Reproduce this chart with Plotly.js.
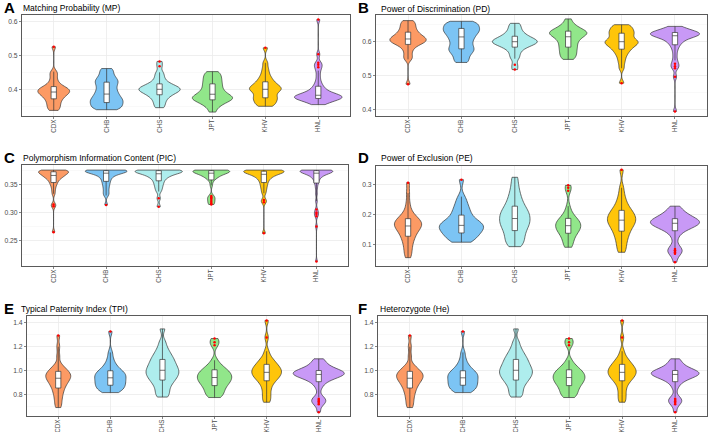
<!DOCTYPE html>
<html>
<head>
<meta charset="utf-8">
<script src="https://cdn.plot.ly/plotly-3.0.1.min.js"></script>
<style>
  html, body { margin: 0; padding: 0; background: #fff; }
  #chart { width: 708px; height: 432px; }
</style>
</head>
<body>
<div id="chart"></div>
<script>
const populations = ['CDX', 'CHB', 'CHS', 'JPT', 'KHV', 'HNL'];
const popColors = ['#FC9A64', '#7CC4F4', '#AEEDED', '#91E68A', '#FFC50A', '#C899F6'];

// Matching Probability (MP)
const mpCDX = [0.338, 0.342, 0.348, 0.353, 0.358, 0.363, 0.368, 0.372, 0.375, 0.379, 0.382, 0.385, 0.387, 0.389, 0.391, 0.393, 0.395, 0.397, 0.399, 0.401, 0.403, 0.405, 0.408, 0.412, 0.418, 0.425, 0.435, 0.445, 0.452, 0.525];
const mpCHB = [0.34, 0.342, 0.345, 0.348, 0.352, 0.355, 0.358, 0.361, 0.364, 0.367, 0.37, 0.373, 0.376, 0.38, 0.384, 0.388, 0.392, 0.397, 0.402, 0.407, 0.412, 0.417, 0.421, 0.425, 0.429, 0.434, 0.44, 0.447, 0.455, 0.461];
const mpCHS = [0.346, 0.352, 0.36, 0.366, 0.372, 0.377, 0.381, 0.384, 0.387, 0.39, 0.392, 0.394, 0.396, 0.398, 0.399, 0.401, 0.402, 0.404, 0.406, 0.408, 0.41, 0.413, 0.416, 0.42, 0.426, 0.433, 0.442, 0.45, 0.468, 0.482];
const mpJPT = [0.333, 0.345, 0.352, 0.357, 0.361, 0.364, 0.367, 0.369, 0.371, 0.373, 0.375, 0.377, 0.379, 0.381, 0.384, 0.387, 0.39, 0.394, 0.398, 0.402, 0.407, 0.412, 0.416, 0.421, 0.426, 0.431, 0.436, 0.441, 0.447, 0.452];
const mpKHV = [0.35, 0.353, 0.357, 0.361, 0.365, 0.369, 0.372, 0.375, 0.378, 0.382, 0.386, 0.39, 0.394, 0.397, 0.399, 0.401, 0.403, 0.405, 0.408, 0.411, 0.414, 0.418, 0.422, 0.427, 0.433, 0.44, 0.45, 0.462, 0.478, 0.522];
const mpHNL = [0.355, 0.358, 0.361, 0.364, 0.366, 0.368, 0.37, 0.371, 0.372, 0.373, 0.374, 0.375, 0.376, 0.377, 0.378, 0.379, 0.38, 0.381, 0.382, 0.383, 0.384, 0.386, 0.388, 0.39, 0.393, 0.396, 0.4, 0.404, 0.409, 0.416, 0.426, 0.44, 0.455, 0.465, 0.472, 0.478, 0.503, 0.605];

// Power of Discrimination (PD)
const pdCDX = [0.662, 0.658, 0.652, 0.647, 0.642, 0.637, 0.632, 0.628, 0.625, 0.621, 0.618, 0.615, 0.613, 0.611, 0.609, 0.607, 0.605, 0.603, 0.601, 0.599, 0.597, 0.595, 0.592, 0.588, 0.582, 0.575, 0.565, 0.555, 0.548, 0.475];
const pdCHB = [0.66, 0.658, 0.655, 0.652, 0.648, 0.645, 0.642, 0.639, 0.636, 0.633, 0.63, 0.627, 0.624, 0.62, 0.616, 0.612, 0.608, 0.603, 0.598, 0.593, 0.588, 0.583, 0.579, 0.575, 0.571, 0.566, 0.56, 0.553, 0.545, 0.539];
const pdCHS = [0.654, 0.648, 0.64, 0.634, 0.628, 0.623, 0.619, 0.616, 0.613, 0.61, 0.608, 0.606, 0.604, 0.602, 0.601, 0.599, 0.598, 0.596, 0.594, 0.592, 0.59, 0.587, 0.584, 0.58, 0.574, 0.567, 0.558, 0.55, 0.532, 0.518];
const pdJPT = [0.667, 0.655, 0.648, 0.643, 0.639, 0.636, 0.633, 0.631, 0.629, 0.627, 0.625, 0.623, 0.621, 0.619, 0.616, 0.613, 0.61, 0.606, 0.602, 0.598, 0.593, 0.588, 0.584, 0.579, 0.574, 0.569, 0.564, 0.559, 0.553, 0.548];
const pdKHV = [0.65, 0.647, 0.643, 0.639, 0.635, 0.631, 0.628, 0.625, 0.622, 0.618, 0.614, 0.61, 0.606, 0.603, 0.601, 0.599, 0.597, 0.595, 0.592, 0.589, 0.586, 0.582, 0.578, 0.573, 0.567, 0.56, 0.55, 0.538, 0.522, 0.478];
const pdHNL = [0.645, 0.642, 0.639, 0.636, 0.634, 0.632, 0.63, 0.629, 0.628, 0.627, 0.626, 0.625, 0.624, 0.623, 0.622, 0.621, 0.62, 0.619, 0.618, 0.617, 0.616, 0.614, 0.612, 0.61, 0.607, 0.604, 0.6, 0.596, 0.591, 0.584, 0.574, 0.56, 0.545, 0.535, 0.528, 0.522, 0.497, 0.395];

// Polymorphism Information Content (PIC)
const picCDX = [0.265, 0.311, 0.314, 0.333, 0.34, 0.346, 0.35, 0.353, 0.356, 0.358, 0.36, 0.362, 0.363, 0.364, 0.365, 0.366, 0.367, 0.368, 0.369, 0.37, 0.371, 0.372, 0.372, 0.373, 0.373, 0.374, 0.374, 0.375, 0.375, 0.375];
const picCHB = [0.313, 0.33, 0.334, 0.339, 0.344, 0.348, 0.352, 0.355, 0.358, 0.361, 0.363, 0.365, 0.367, 0.368, 0.369, 0.37, 0.371, 0.372, 0.372, 0.373, 0.373, 0.374, 0.374, 0.374, 0.375, 0.375, 0.375, 0.375, 0.375, 0.375];
const picCHS = [0.31, 0.325, 0.337, 0.342, 0.346, 0.35, 0.353, 0.356, 0.359, 0.361, 0.363, 0.364, 0.366, 0.367, 0.368, 0.369, 0.37, 0.371, 0.371, 0.372, 0.373, 0.373, 0.374, 0.374, 0.374, 0.375, 0.375, 0.375, 0.375, 0.375];
const picJPT = [0.314, 0.316, 0.319, 0.322, 0.325, 0.327, 0.329, 0.348, 0.356, 0.359, 0.361, 0.363, 0.364, 0.365, 0.366, 0.367, 0.368, 0.369, 0.37, 0.37, 0.371, 0.371, 0.372, 0.372, 0.373, 0.373, 0.374, 0.374, 0.374, 0.375, 0.375, 0.375, 0.375, 0.375, 0.375, 0.375];
const picKHV = [0.263, 0.318, 0.322, 0.334, 0.34, 0.345, 0.349, 0.353, 0.356, 0.359, 0.361, 0.363, 0.365, 0.366, 0.367, 0.368, 0.369, 0.37, 0.371, 0.372, 0.372, 0.373, 0.373, 0.374, 0.374, 0.374, 0.375, 0.375, 0.375, 0.375];
const picHNL = [0.213, 0.275, 0.293, 0.297, 0.3, 0.305, 0.32, 0.333, 0.343, 0.35, 0.354, 0.357, 0.36, 0.362, 0.364, 0.365, 0.366, 0.367, 0.368, 0.369, 0.37, 0.37, 0.371, 0.371, 0.372, 0.372, 0.373, 0.373, 0.373, 0.374, 0.374, 0.374, 0.374, 0.375, 0.375, 0.375, 0.375, 0.375, 0.375, 0.375];

// Power of Exclusion (PE)
const peCDX = [0.055, 0.068, 0.08, 0.092, 0.103, 0.112, 0.12, 0.127, 0.133, 0.139, 0.144, 0.149, 0.153, 0.157, 0.16, 0.163, 0.166, 0.169, 0.172, 0.175, 0.178, 0.182, 0.186, 0.19, 0.196, 0.205, 0.218, 0.24, 0.272, 0.307];
const peCHB = [0.107, 0.11, 0.115, 0.12, 0.126, 0.131, 0.135, 0.138, 0.142, 0.146, 0.15, 0.153, 0.156, 0.159, 0.162, 0.165, 0.168, 0.171, 0.174, 0.178, 0.183, 0.19, 0.198, 0.205, 0.213, 0.222, 0.232, 0.245, 0.26, 0.317];
const peCHS = [0.092, 0.1, 0.108, 0.116, 0.124, 0.132, 0.139, 0.146, 0.153, 0.159, 0.164, 0.169, 0.174, 0.179, 0.184, 0.189, 0.194, 0.199, 0.204, 0.209, 0.215, 0.221, 0.228, 0.236, 0.245, 0.256, 0.268, 0.283, 0.302, 0.325];
const peJPT = [0.09, 0.096, 0.104, 0.112, 0.12, 0.127, 0.133, 0.137, 0.141, 0.145, 0.149, 0.152, 0.155, 0.158, 0.161, 0.164, 0.167, 0.17, 0.173, 0.176, 0.179, 0.183, 0.187, 0.192, 0.2, 0.21, 0.228, 0.28, 0.29, 0.298];
const peKHV = [0.073, 0.085, 0.098, 0.11, 0.12, 0.129, 0.137, 0.144, 0.151, 0.157, 0.162, 0.167, 0.171, 0.175, 0.179, 0.183, 0.187, 0.191, 0.195, 0.199, 0.204, 0.209, 0.214, 0.22, 0.228, 0.238, 0.25, 0.266, 0.29, 0.35];
const peHNL = [0.04, 0.068, 0.073, 0.077, 0.08, 0.084, 0.088, 0.118, 0.132, 0.142, 0.149, 0.153, 0.156, 0.159, 0.161, 0.163, 0.165, 0.167, 0.168, 0.17, 0.171, 0.172, 0.173, 0.175, 0.176, 0.178, 0.179, 0.181, 0.183, 0.185, 0.187, 0.189, 0.192, 0.195, 0.199, 0.204, 0.209, 0.215, 0.221, 0.228];

// Typical Paternity Index (TPI)
const tpiCDX = [0.693, 0.72, 0.75, 0.775, 0.8, 0.82, 0.838, 0.855, 0.87, 0.883, 0.895, 0.905, 0.915, 0.924, 0.932, 0.94, 0.948, 0.955, 0.962, 0.969, 0.976, 0.984, 0.993, 1.003, 1.015, 1.03, 1.05, 1.12, 1.198, 1.29];
const tpiCHB = [0.817, 0.825, 0.834, 0.843, 0.852, 0.861, 0.87, 0.878, 0.886, 0.894, 0.902, 0.91, 0.918, 0.926, 0.935, 0.944, 0.952, 0.959, 0.966, 0.973, 0.98, 0.988, 0.998, 1.01, 1.025, 1.042, 1.065, 1.1, 1.15, 1.324];
const tpiCHS = [0.78, 0.8, 0.825, 0.85, 0.872, 0.892, 0.908, 0.921, 0.934, 0.946, 0.957, 0.967, 0.977, 0.987, 0.997, 1.007, 1.017, 1.028, 1.04, 1.052, 1.065, 1.078, 1.092, 1.107, 1.123, 1.142, 1.165, 1.195, 1.24, 1.345];
const tpiJPT = [0.776, 0.79, 0.805, 0.82, 0.835, 0.85, 0.863, 0.875, 0.886, 0.896, 0.905, 0.914, 0.922, 0.93, 0.938, 0.946, 0.954, 0.962, 0.97, 0.978, 0.987, 0.996, 1.006, 1.018, 1.032, 1.05, 1.085, 1.21, 1.235, 1.265];
const tpiKHV = [0.737, 0.765, 0.795, 0.825, 0.855, 0.88, 0.9, 0.915, 0.927, 0.938, 0.948, 0.957, 0.965, 0.973, 0.981, 0.989, 0.997, 1.005, 1.013, 1.021, 1.03, 1.04, 1.051, 1.063, 1.077, 1.093, 1.115, 1.16, 1.274, 1.415];
const tpiHNL = [0.655, 0.72, 0.732, 0.745, 0.755, 0.765, 0.778, 0.85, 0.88, 0.9, 0.915, 0.926, 0.934, 0.941, 0.947, 0.952, 0.956, 0.96, 0.963, 0.966, 0.969, 0.972, 0.975, 0.978, 0.981, 0.984, 0.987, 0.99, 0.994, 0.998, 1.002, 1.007, 1.013, 1.02, 1.03, 1.042, 1.055, 1.07, 1.085, 1.097];

// Heterozygote (He) -- the reference panel F shows the same values as panel E
const heCDX = tpiCDX, heCHB = tpiCHB, heCHS = tpiCHS, heJPT = tpiJPT, heKHV = tpiKHV, heHNL = tpiHNL;

const W = 708, H = 432;

// box: plot area in pixels [left, top, right, bottom]; vw: widest point of each violin, in category units
const panels = [
    { letter: 'A', title: 'Matching Probability (MP)', groups: [mpCDX, mpCHB, mpCHS, mpJPT, mpKHV, mpHNL],
      range: [0.3215, 0.6185], dtick: 0.1, minor: 0.05, fmt: '.1f', bw: 0.008,
      vw: [0.6, 0.62, 0.78, 0.76, 0.6, 0.9], box: [22, 15, 350, 116], lx: 2, tx: 21, ly: 7, ty: 8 },
    { letter: 'B', title: 'Power of Discrimination (PD)', groups: [pdCDX, pdCHB, pdCHS, pdJPT, pdKHV, pdHNL],
      range: [0.3815, 0.6785], dtick: 0.1, minor: 0.05, fmt: '.1f', bw: 0.008,
      vw: [0.68, 0.68, 0.84, 0.7, 0.62, 0.92], box: [376, 15, 707, 116], lx: 356, tx: 379, ly: 7.5, ty: 8.5 },
    { letter: 'C', title: 'Polymorphism Information Content (PIC)', groups: [picCDX, picCHB, picCHS, picJPT, picKHV, picHNL],
      range: [0.205, 0.384], dtick: 0.05, minor: 0.025, fmt: '.2f', bw: 0.004,
      vw: [0.57, 0.79, 0.9, 0.7, 0.77, 0.62], box: [22, 165, 348, 266], lx: 2, tx: 21, ly: 157, ty: 158 },
    { letter: 'D', title: 'Power of Exclusion (PE)', groups: [peCDX, peCHB, peCHS, peJPT, peKHV, peHNL],
      range: [0.027, 0.363], dtick: 0.1, minor: 0.05, fmt: '.1f', bw: 0.015,
      vw: [0.51, 0.83, 0.57, 0.47, 0.53, 0.92], box: [376, 166, 707, 266], lx: 356, tx: 379, ly: 157, ty: 158 },
    { letter: 'E', title: 'Typical Paternity Index (TPI)', groups: [tpiCDX, tpiCHB, tpiCHS, tpiJPT, tpiKHV, tpiHNL],
      range: [0.623, 1.452], dtick: 0.2, minor: 0.1, fmt: '.1f', bw: 0.03,
      vw: [0.48, 0.6, 0.63, 0.66, 0.57, 0.98], box: [27, 316, 350, 416], lx: 2, tx: 19, ly: 308, ty: 308.5 },
    { letter: 'F', title: 'Heterozygote (He)', groups: [heCDX, heCHB, heCHS, heJPT, heKHV, heHNL],
      range: [0.623, 1.452], dtick: 0.2, minor: 0.1, fmt: '.1f', bw: 0.03,
      vw: [0.5, 0.57, 0.62, 0.6, 0.53, 0.9], box: [378, 316, 707, 416], lx: 356, tx: 378, ly: 308, ty: 308.5 }
];

const traces = [];
const layout = {
    width: W,
    height: H,
    margin: { l: 0, r: 0, t: 0, b: 0 },
    paper_bgcolor: '#ffffff',
    plot_bgcolor: '#ffffff',
    showlegend: false,
    violinmode: 'overlay',
    violingap: 0,
    violingroupgap: 0,
    font: { family: 'Liberation Sans, Arial, sans-serif', color: '#4d4d4d' },
    annotations: []
};

panels.forEach((p, i) => {
    const n = i === 0 ? '' : String(i + 1);
    const [x0, y0, x1, y1] = p.box;

    p.groups.forEach((vals, g) => {
        traces.push({
            type: 'violin',
            name: populations[g],
            y: vals,
            xaxis: 'x' + n,
            yaxis: 'y' + n,
            width: p.vw[g],
            bandwidth: p.bw,
            scalegroup: p.letter + g,
            scalemode: 'width',
            spanmode: 'hard',
            fillcolor: popColors[g],
            opacity: 1,
            line: { color: '#333333', width: 0.7 },
            // inner box about 5px wide whatever the violin width
            box: { visible: true, width: 0.1 / p.vw[g], fillcolor: '#ffffff', line: { color: '#333333', width: 0.7 } },
            meanline: { visible: false },
            points: 'outliers',
            pointpos: 0,
            jitter: 0,
            marker: { color: '#ff0000', size: 2.5, line: { width: 0 } },
            hoverinfo: 'y'
        });
    });

    layout['xaxis' + n] = {
        domain: [x0 / W, x1 / W],
        anchor: 'y' + n,
        type: 'category',
        categoryorder: 'array',
        categoryarray: populations,
        range: [-0.6, 5.6],
        tickangle: -90,
        tickfont: { size: 6.3, color: '#4d4d4d' },
        ticklabelstandoff: -2,
        ticks: 'outside',
        ticklen: 2,
        tickcolor: '#333333',
        tickwidth: 0.6,
        showgrid: true,
        gridcolor: '#ebebeb',
        gridwidth: 0.8,
        showline: true,
        mirror: true,
        linecolor: '#5a5a5a',
        linewidth: 1,
        zeroline: false,
        fixedrange: true
    };
    layout['yaxis' + n] = {
        domain: [1 - y1 / H, 1 - y0 / H],
        anchor: 'x' + n,
        range: p.range,
        dtick: p.dtick,
        tick0: 0,
        tickformat: p.fmt,
        tickfont: { size: 6.8, color: '#4d4d4d' },
        ticks: 'outside',
        ticklen: 2,
        tickcolor: '#333333',
        tickwidth: 0.6,
        showgrid: true,
        gridcolor: '#ebebeb',
        gridwidth: 0.8,
        minor: { dtick: p.minor, tick0: 0, showgrid: true, gridcolor: '#f3f3f3', gridwidth: 0.5, ticks: '' },
        showline: true,
        mirror: true,
        linecolor: '#5a5a5a',
        linewidth: 1,
        zeroline: false,
        fixedrange: true
    };

    // panel letter and title
    layout.annotations.push({
        xref: 'paper', yref: 'paper', x: p.lx / W, y: 1 - p.ly / H,
        xanchor: 'left', yanchor: 'middle', showarrow: false,
        text: '<b>' + p.letter + '</b>',
        font: { size: 15, color: '#000000', family: 'Liberation Sans, Arial, sans-serif' }
    });
    layout.annotations.push({
        xref: 'paper', yref: 'paper', x: p.tx / W, y: 1 - p.ty / H,
        xanchor: 'left', yanchor: 'middle', showarrow: false,
        text: p.title,
        font: { size: 8.5, color: '#000000', family: 'Liberation Sans, Arial, sans-serif' }
    });
});

Plotly.newPlot('chart', traces, layout, { staticPlot: true, displayModeBar: false });
</script>
</body>
</html>
